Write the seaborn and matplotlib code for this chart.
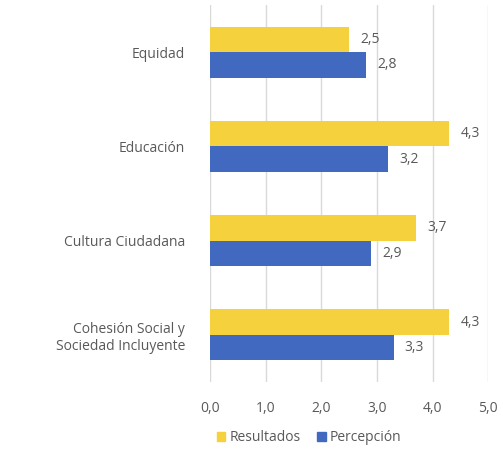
import pandas as pd
import seaborn as sns
from matplotlib import pyplot as plt

categories = ["Equidad", "Educación", "Cultura Ciudadana", "Cohesión Social y\nSociedad Incluyente"]
resultados = [2.5, 4.3, 3.7, 4.3]
percepcion = [2.8, 3.2, 2.9, 3.3]
series = ["Resultados", "Percepción"]
xticks = [0, 1, 2, 3, 4, 5]

df = pd.DataFrame({
    "cat": categories * 2,
    "serie": [series[0]] * 4 + [series[1]] * 4,
    "valor": resultados + percepcion,
})

sns.set_style("white")
plt.rcParams["font.family"] = ["Open Sans", "DejaVu Sans"]
TXT = "#595959"
COLS = ["#F5D13E", "#4169C0"]

fig = plt.figure(figsize=(5.03, 4.5), dpi=100)
ax = fig.add_axes([0.4175, 0.151, 0.553, 0.838])

sns.barplot(data=df, y="cat", x="valor", hue="serie", order=categories,
            hue_order=series, palette=COLS, width=0.54, saturation=1,
            orient="h", ax=ax, legend=False, linewidth=0)

for cont in ax.containers:
    ax.bar_label(cont, labels=[f"{v:.1f}".replace(".", ",") for v in cont.datavalues],
                 padding=8, fontsize=10, color=TXT)

ax.set_xlim(0, 5)
ax.set_xticks(xticks)
ax.set_xticklabels([f"{v:.1f}".replace(".", ",") for v in xticks], fontsize=10, color=TXT)
ax.tick_params(axis="x", length=0, pad=14)
ax.tick_params(axis="y", length=0, pad=18, labelsize=10, labelcolor=TXT)
for lbl in ax.get_yticklabels():
    lbl.set_horizontalalignment("right")
ax.set_xlabel("")
ax.set_ylabel("")
ax.grid(axis="x", color="#d9d9d9", linewidth=1)
ax.set_axisbelow(True)
for s in ax.spines.values():
    s.set_visible(False)

handles = [plt.Rectangle((0, 0), 1, 1, color=c) for c in COLS]
leg = fig.legend(handles, series, loc="center", bbox_to_anchor=(0.615, 0.027), ncol=2,
                 frameon=False, fontsize=10, handlelength=0.6, handleheight=0.6,
                 handletextpad=0.3, columnspacing=1.2)
for t in leg.get_texts():
    t.set_color(TXT)

fig.savefig("out.png", dpi=100)
